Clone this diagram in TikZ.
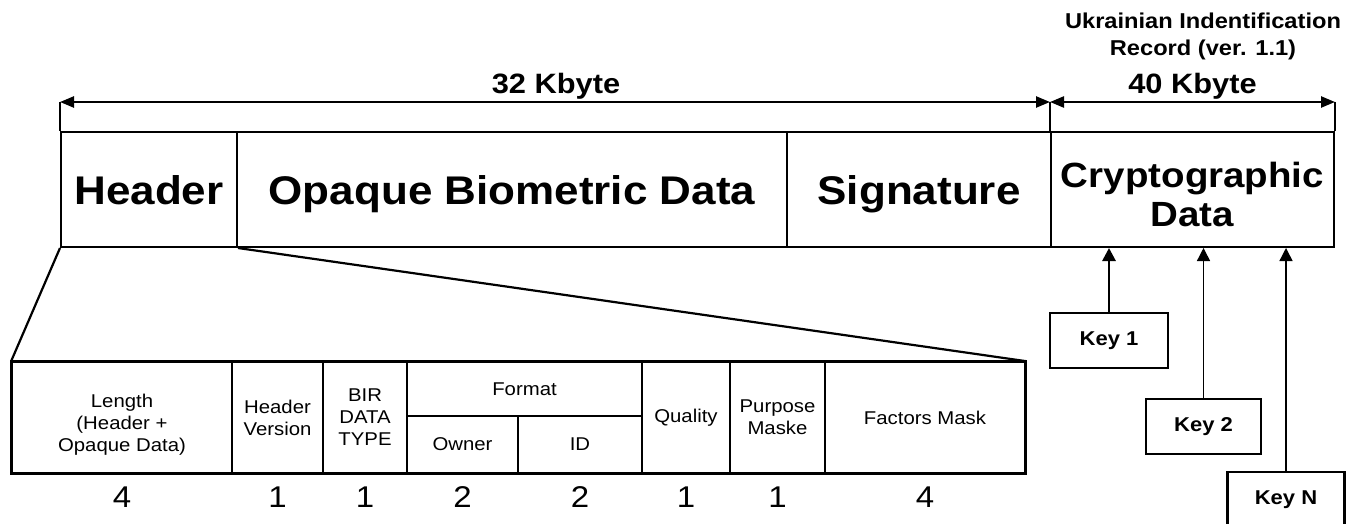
\documentclass[tikz,border=0pt]{standalone}
\usepackage{fontspec}
\setmainfont[FakeStretch=1.1]{Liberation Sans}
\usetikzlibrary{arrows.meta}

\begin{document}
\begin{tikzpicture}[x=1pt, y=-1pt,
  bigbox/.style={draw, line width=2pt, inner sep=0pt, minimum height=115pt, align=center,
    text height=30pt, text depth=0pt, font=\fontsize{40}{42}\selectfont\bfseries},
  cell/.style={draw, line width=1.7pt, inner sep=0pt, align=center,
    font=\fontsize{18.5}{22}\selectfont},
  num/.style={font=\fontsize{30}{30}\selectfont},
  keybox/.style={draw, line width=2.4pt, inner sep=0pt, minimum height=55pt,
    font=\fontsize{20}{20}\selectfont\bfseries},
  dim/.style={line width=2.4pt, {Triangle[length=14pt,width=11pt]}-{Triangle[length=14pt,width=11pt]}},
  keyarrow/.style={-{Triangle[length=13pt,width=13pt]}},
]

\useasboundingbox (0,0) rectangle (1362,524);

% Record boxes
\node[bigbox, minimum width=176pt] (hdr) at (149,189.5) {Header};
\node[bigbox, minimum width=550pt] (obd) at (512,189.5) {Opaque Biometric Data};
\node[bigbox, minimum width=264pt] (sig) at (919,189.5) {Signature};
\node[draw, line width=2pt, inner sep=0pt, minimum height=115pt, minimum width=283pt, align=center,
  font=\fontsize{35}{39}\selectfont\bfseries] (cry) at (1192.5,189.5) {\rule{0pt}{36pt}Cryptographic\\Data};

% Size arrows
\coordinate (dA) at ([yshift=29pt]hdr.north west);
\coordinate (dB) at ([yshift=29pt]cry.north west);
\coordinate (dC) at ([yshift=29pt]cry.north east);
\draw[line width=1.6pt] (dA) -- (hdr.north west);
\draw[line width=1.6pt] (dB) -- (cry.north west);
\draw[line width=1.6pt] (dC) -- (cry.north east);
\draw[dim] (dA) -- (dB);
\draw[dim] (dB) -- (dC);

% Various labels
\node[font=\fontsize{28}{28}\selectfont\bfseries] (kb32) at (556,86.5) {32 Kbyte};
\node[font=\fontsize{28}{28}\selectfont\bfseries] (kb40) at (1192.5,86.5) {40 Kbyte};
\node[font=\fontsize{21.5}{27}\selectfont\bfseries, align=center] (uir) at (1203,36.5) {Ukrainian Indentification\\Record (ver. 1.1)};

% Header fields
\node[cell, minimum width=220pt, minimum height=111pt] (len) at (122,417.5) {\rule{0pt}{27.5pt}Length\\(Header +\\Opaque Data)};
\node[cell, minimum width=91pt, minimum height=111pt] (ver) at (277.5,417.5) {Header\\Version};
\node[cell, minimum width=84pt, minimum height=111pt] (bir) at (365,417.5) {BIR\\DATA\\TYPE};
\node[cell, minimum width=235pt, minimum height=54pt] (fmt) at (524.5,389) {Format};
\node[cell, minimum width=111pt, minimum height=57pt] (own) at (462.5,444.5) {Owner};
\node[cell, minimum width=124pt, minimum height=57pt] (fid) at (580,444.5) {ID};
\node[cell, minimum width=88pt, minimum height=111pt] (qua) at (686,417.5) {Quality};
\node[cell, minimum width=95pt, minimum height=111pt] (pur) at (777.5,417.5) {Purpose\\Maske};
\node[cell, minimum width=200pt, minimum height=111pt] (fac) at (925,417.5) {Factors Mask};
\draw[line width=2.4pt] (len.north west) rectangle (fac.south east);

% Field sizes
\node[num] (n1) at (122,497) {4};
\node[num] (n2) at (277.5,497) {1};
\node[num] (n3) at (365,497) {1};
\node[num] (n4) at (462.5,497) {2};
\node[num] (n5) at (580,497) {2};
\node[num] (n6) at (686,497) {1};
\node[num] (n7) at (777.5,497) {1};
\node[num] (n8) at (925,497) {4};

% Zoom lines
\draw[line width=2.2pt] (hdr.south west) -- (len.north west);
\draw[line width=2.2pt] (hdr.south east) -- (fac.north east);

% Keys
\node[keybox, minimum width=118pt] (key1) at (1109,340.5) {Key 1};
\node[keybox, minimum width=115pt] (key2) at (1203.5,426.5) {Key 2};
\node[keybox, minimum width=117pt] (keyN) at (1286,499.5) {Key N};

\draw[keyarrow, line width=2.8pt] (key1.north) -- (key1.north |- cry.south);
\draw[keyarrow, line width=1.4pt] (key2.north) -- (key2.north |- cry.south);
\draw[keyarrow, line width=1.4pt] (keyN.north) -- (keyN.north |- cry.south);

\end{tikzpicture}
\end{document}
